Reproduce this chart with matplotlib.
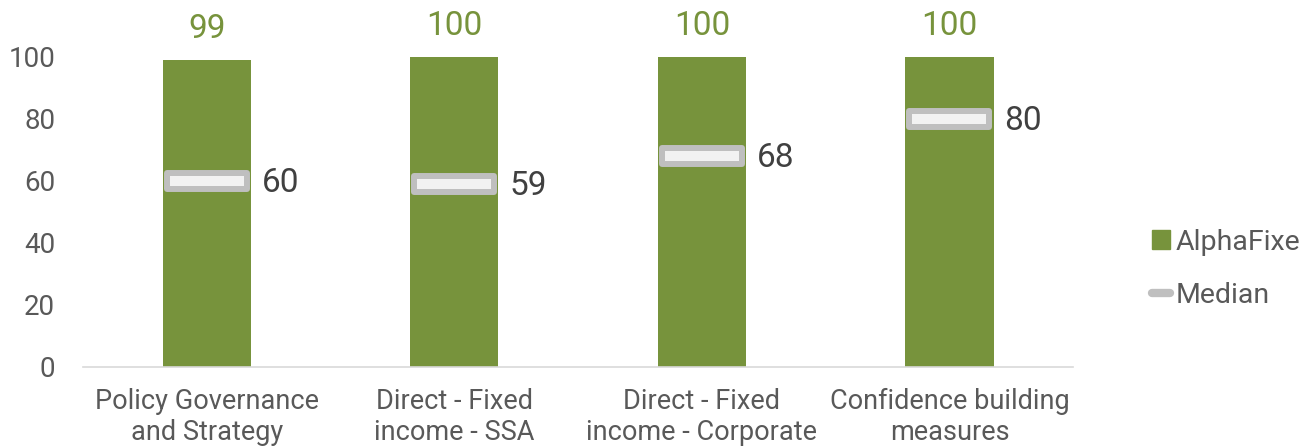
import matplotlib.pyplot as plt
from matplotlib.lines import Line2D
from matplotlib.patches import Patch, Rectangle

plt.rcParams['font.family'] = ['Roboto', 'DejaVu Sans']

categories = ['Policy Governance\nand Strategy', 'Direct - Fixed\nincome - SSA',
              'Direct - Fixed\nincome - Corporate', 'Confidence building\nmeasures']
alphafixe = [99, 100, 100, 100]
median = [60, 59, 68, 80]

green = '#77933C'
grey = '#BFBFBF'

fig = plt.figure(figsize=(13.08, 4.48), dpi=100)
ax = fig.add_axes([0.0635, 0.181, 0.757, 0.692])

x = list(range(len(categories)))
bw = 0.356
ax.bar(x, alphafixe, width=bw, color=green, zorder=2)

for i, v in enumerate(alphafixe):
    ax.annotate(str(v), (i, v), xytext=(0, 22), textcoords='offset points',
                ha='center', va='center', fontsize=24, color=green, annotation_clip=False)

# median marker: rounded grey frame with light fill
mw, mh = 0.323, 5.2
for i, m in enumerate(median):
    ax.add_patch(Rectangle((i - mw / 2, m - mh / 2), mw, mh, facecolor='#F2F2F2',
                           edgecolor=grey, lw=4.3, joinstyle='round', zorder=3))
    ax.annotate(str(m), (i + bw / 2, m), xytext=(8, -1.5), textcoords='offset points',
                ha='left', va='center', fontsize=24, color='#404040')

ax.set_xlim(-0.5, len(categories) - 0.5)
ax.set_ylim(0, 100)
ax.set_yticks(range(0, 101, 20))
ax.set_xticks(x)
ax.set_xticklabels(categories, fontsize=19.5, color='#595959', linespacing=1.2)
ax.tick_params(axis='y', labelsize=20, labelcolor='#595959', length=0, pad=20)
ax.tick_params(axis='x', length=0, pad=15)
for s in ['top', 'right', 'left']:
    ax.spines[s].set_visible(False)
ax.spines['bottom'].set_color('#D9D9D9')
ax.spines['bottom'].set_linewidth(1.2)

handles = [Patch(facecolor=green, edgecolor=green),
           Line2D([0], [0], color=grey, lw=6, solid_capstyle='round')]
fig.legend(handles, ['AlphaFixe', 'Median'], loc='center left', bbox_to_anchor=(0.861, 0.40),
           frameon=False, fontsize=20.5, labelcolor='#595959', handlelength=0.65,
           handleheight=0.65, handletextpad=0.2, labelspacing=0.9)

fig.savefig('out.png', dpi=100)
